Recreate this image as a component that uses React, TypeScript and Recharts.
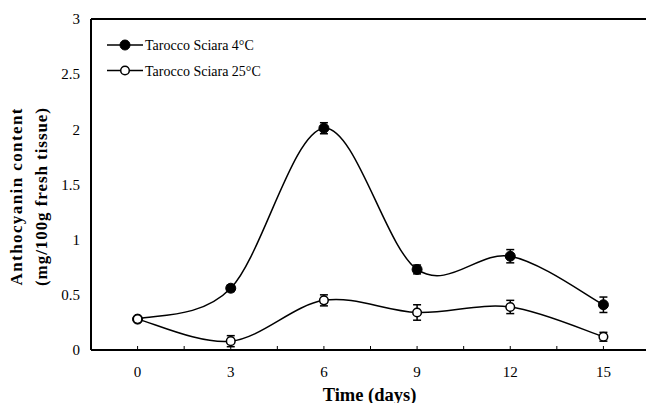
import React from 'react';
import { LineChart, Line, XAxis, YAxis, ErrorBar, ReferenceLine } from 'recharts';

const days = [0, 3, 6, 9, 12, 15];
const sciara4 = [0.28, 0.56, 2.01, 0.73, 0.85, 0.41];
const sciara4Err = [0.02, 0.03, 0.05, 0.04, 0.06, 0.07];
const sciara25 = [0.28, 0.08, 0.45, 0.34, 0.39, 0.12];
const sciara25Err = [0.02, 0.05, 0.05, 0.07, 0.06, 0.04];

const xTicks = [0, 1.5, 3, 4.5, 6, 7.5, 9, 10.5, 12, 13.5, 15];
const xLabels = [0, 3, 6, 9, 12, 15];
const yTicks = [0, 0.5, 1, 1.5, 2, 2.5, 3];

const seriesNames = ['Tarocco Sciara 4°C', 'Tarocco Sciara 25°C'];
const yTitle = ['Anthocyanin content', '(mg/100g fresh tissue)'];
const xTitle = 'Time (days)';

const data = days.map((d, i) => ({
  day: d,
  t4: sciara4[i],
  t4Err: sciara4Err[i],
  t25: sciara25[i],
  t25Err: sciara25Err[i],
}));

const FONT = '"Liberation Serif", "Times New Roman", serif';

// Catmull-Rom style smoothing (similar to spreadsheet "smoothed line")
function smoothCurve(context: any) {
  let pts: number[][] = [];
  return {
    areaStart() {},
    areaEnd() {},
    lineStart() {
      pts = [];
    },
    lineEnd() {
      const n = pts.length;
      if (!n) return;
      context.moveTo(pts[0][0], pts[0][1]);
      const t = 1 / 6;
      for (let i = 0; i < n - 1; i++) {
        const p0 = pts[i - 1] || pts[i];
        const p1 = pts[i];
        const p2 = pts[i + 1];
        const p3 = pts[i + 2] || p2;
        context.bezierCurveTo(
          p1[0] + (p2[0] - p0[0]) * t,
          p1[1] + (p2[1] - p0[1]) * t,
          p2[0] - (p3[0] - p1[0]) * t,
          p2[1] - (p3[1] - p1[1]) * t,
          p2[0],
          p2[1]
        );
      }
    },
    point(x: number, y: number) {
      pts.push([+x, +y]);
    },
  };
}

const XTick = (props: any) => {
  const { x, y, payload } = props;
  const show = xLabels.includes(payload.value);
  return (
    <g>
      <line x1={x} x2={x} y1={y} y2={y - 4} stroke="#000" strokeWidth={1} />
      {show && (
        <text x={x} y={y + 27} textAnchor="middle" fontFamily={FONT} fontSize={15} fill="#000">
          {payload.value}
        </text>
      )}
    </g>
  );
};

export default function App() {
  return (
    <div style={{ position: 'absolute', left: 0, top: 0, width: 646, height: 403, overflow: 'hidden', background: '#fff' }}>
      <LineChart
        width={652}
        height={403}
        data={data}
        margin={{ top: 19, right: 2, left: 0, bottom: 23 }}
      >
        <XAxis
          dataKey="day"
          type="number"
          domain={[-1.5, 16.5]}
          ticks={xTicks}
          interval={0}
          tickLine={false}
          tickSize={0}
          tickMargin={0}
          height={30}
          axisLine={{ stroke: '#000', strokeWidth: 2 }}
          tick={<XTick />}
        />
        <YAxis
          domain={[0, 3]}
          ticks={yTicks}
          interval={0}
          width={91}
          tickLine={false}
          tickSize={0}
          tickMargin={11}
          axisLine={{ stroke: '#000', strokeWidth: 2 }}
          tick={{ fontFamily: FONT, fontSize: 15, fill: '#000' }}
        />
        <ReferenceLine y={3} stroke="#000" strokeWidth={2} />
        <Line
          dataKey="t4"
          name={seriesNames[0]}
          type={smoothCurve as any}
          stroke="#000"
          strokeWidth={1.5}
          dot={{ r: 5, fill: '#000', stroke: '#000', strokeWidth: 1 }}
          isAnimationActive={false}
        >
          <ErrorBar dataKey="t4Err" direction="y" width={4} stroke="#000" strokeWidth={1.5} isAnimationActive={false} />
        </Line>
        <Line
          dataKey="t25"
          name={seriesNames[1]}
          type={smoothCurve as any}
          stroke="#000"
          strokeWidth={1.5}
          dot={{ r: 4.3, fill: '#fff', stroke: '#000', strokeWidth: 1.5 }}
          isAnimationActive={false}
        >
          <ErrorBar dataKey="t25Err" direction="y" width={4} stroke="#000" strokeWidth={1.5} isAnimationActive={false} />
        </Line>
      </LineChart>
      <svg
        width={646}
        height={403}
        style={{ position: 'absolute', left: 0, top: 0, pointerEvents: 'none' }}
      >
        {/* legend */}
        <line x1={107} x2={143} y1={45} y2={45} stroke="#000" strokeWidth={1.5} />
        <circle cx={125} cy={45} r={5} fill="#000" stroke="#000" />
        <text x={145} y={50} fontFamily={FONT} fontSize={14} fill="#000">
          {seriesNames[0]}
        </text>
        <line x1={107} x2={143} y1={70.5} y2={70.5} stroke="#000" strokeWidth={1.5} />
        <circle cx={125} cy={70.5} r={4.3} fill="#fff" stroke="#000" strokeWidth={1.5} />
        <text x={145} y={75.5} fontFamily={FONT} fontSize={14} fill="#000">
          {seriesNames[1]}
        </text>
        {/* axis titles */}
        <text
          transform="translate(21.5,197) rotate(-90)"
          textAnchor="middle"
          fontFamily={FONT}
          fontWeight="bold"
          fontSize={17}
          fill="#000"
          textLength={177}
          lengthAdjust="spacing"
        >
          {yTitle[0]}
        </text>
        <text
          transform="translate(46.5,197) rotate(-90)"
          textAnchor="middle"
          fontFamily={FONT}
          fontWeight="bold"
          fontSize={17}
          fill="#000"
          textLength={178}
          lengthAdjust="spacing"
        >
          {yTitle[1]}
        </text>
        <text x={369.5} y={400.5} textAnchor="middle" fontFamily={FONT} fontWeight="bold" fontSize={18.5} fill="#000">
          {xTitle}
        </text>
      </svg>
    </div>
  );
}
